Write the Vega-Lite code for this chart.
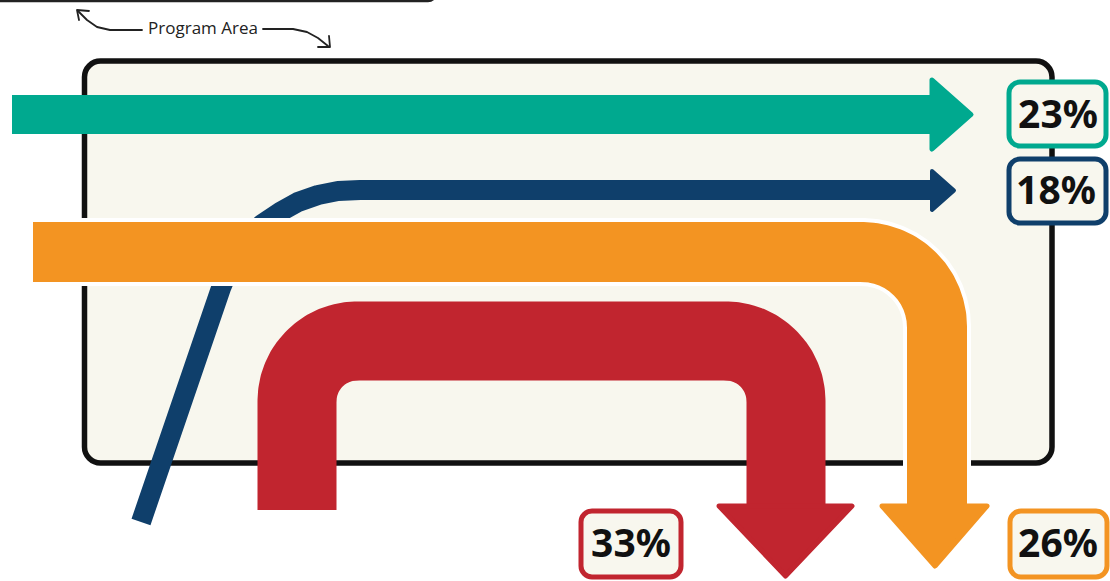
{
  "$schema": "https://vega.github.io/schema/vega-lite/v6.json",
  "width": 1110,
  "height": 581,
  "autosize": {"type": "none"},
  "padding": 0,
  "background": "#ffffff",
  "config": {"view": {"stroke": null}, "axis": {"disable": true}, "legend": {"disable": true}},
  "datasets": {
    "topbox": [{"x": -10, "x2": 436, "y": -30, "y2": 1}],
    "ann": [
      {"id": "L", "i": 0, "x": 142, "y": 30},
      {"id": "L", "i": 1, "x": 110, "y": 30},
      {"id": "L", "i": 2, "x": 97, "y": 27},
      {"id": "L", "i": 3, "x": 87, "y": 20},
      {"id": "L", "i": 4, "x": 78, "y": 11},
      {"id": "LH", "i": 0, "x": 89, "y": 11},
      {"id": "LH", "i": 1, "x": 77, "y": 10},
      {"id": "LH", "i": 2, "x": 79, "y": 20},
      {"id": "R", "i": 0, "x": 263, "y": 29},
      {"id": "R", "i": 1, "x": 293, "y": 29},
      {"id": "R", "i": 2, "x": 307, "y": 32},
      {"id": "R", "i": 3, "x": 318, "y": 38},
      {"id": "R", "i": 4, "x": 328, "y": 46},
      {"id": "RH", "i": 0, "x": 318, "y": 47},
      {"id": "RH", "i": 1, "x": 330, "y": 47},
      {"id": "RH", "i": 2, "x": 329, "y": 36}
    ],
    "annText": [{"x": 203, "y": 29, "t": "Program Area"}],
    "box": [{"x": 84.5, "x2": 1052, "y": 61, "y2": 463}],
    "navy": [
      {"i": 0, "x": 141, "y": 522},
      {"i": 1, "x": 221, "y": 288},
      {"i": 2, "x": 236, "y": 252},
      {"i": 3, "x": 248, "y": 237},
      {"i": 4, "x": 262, "y": 224},
      {"i": 5, "x": 280, "y": 212},
      {"i": 6, "x": 298, "y": 202},
      {"i": 7, "x": 318, "y": 195},
      {"i": 8, "x": 338, "y": 191},
      {"i": 9, "x": 360, "y": 190},
      {"i": 10, "x": 933, "y": 190}
    ],
    "navyHead": [
      {"x": 932, "y": 171, "y2": 210},
      {"x": 954, "y": 190.5, "y2": 190.5}
    ],
    "tealShaft": [{"x": 12, "x2": 934, "y": 95, "y2": 134}],
    "tealHead": [
      {"x": 932, "y": 80, "y2": 149},
      {"x": 971, "y": 114.5, "y2": 114.5}
    ],
    "red": [
      {"i": 0, "x": 297, "y": 510},
      {"i": 1, "x": 297, "y": 401},
      {"i": 2, "x": 297.5, "y": 393.2},
      {"i": 3, "x": 299, "y": 385.5},
      {"i": 4, "x": 301.6, "y": 378},
      {"i": 5, "x": 305, "y": 371},
      {"i": 6, "x": 309.4, "y": 364.5},
      {"i": 7, "x": 314.6, "y": 358.6},
      {"i": 8, "x": 320.5, "y": 353.4},
      {"i": 9, "x": 327, "y": 349},
      {"i": 10, "x": 334, "y": 345.6},
      {"i": 11, "x": 341.5, "y": 343},
      {"i": 12, "x": 349.2, "y": 341.5},
      {"i": 13, "x": 357, "y": 341},
      {"i": 14, "x": 726, "y": 341},
      {"i": 15, "x": 733.8, "y": 341.5},
      {"i": 16, "x": 741.5, "y": 343},
      {"i": 17, "x": 749, "y": 345.6},
      {"i": 18, "x": 756, "y": 349},
      {"i": 19, "x": 762.5, "y": 353.4},
      {"i": 20, "x": 768.4, "y": 358.6},
      {"i": 21, "x": 773.6, "y": 364.5},
      {"i": 22, "x": 778, "y": 371},
      {"i": 23, "x": 781.4, "y": 378},
      {"i": 24, "x": 784, "y": 385.5},
      {"i": 25, "x": 785.5, "y": 393.2},
      {"i": 26, "x": 786, "y": 401},
      {"i": 27, "x": 786, "y": 507}
    ],
    "redHead": [
      {"y": 506, "x": 719, "x2": 852},
      {"y": 576, "x": 785.5, "x2": 785.5}
    ],
    "orange": [
      {"i": 0, "x": 33, "y": 252},
      {"i": 1, "x": 862, "y": 252},
      {"i": 2, "x": 871.8, "y": 252.6},
      {"i": 3, "x": 881.4, "y": 254.6},
      {"i": 4, "x": 890.7, "y": 257.7},
      {"i": 5, "x": 899.5, "y": 262},
      {"i": 6, "x": 907.7, "y": 267.5},
      {"i": 7, "x": 915, "y": 274},
      {"i": 8, "x": 921.5, "y": 281.3},
      {"i": 9, "x": 927, "y": 289.5},
      {"i": 10, "x": 931.3, "y": 298.3},
      {"i": 11, "x": 934.4, "y": 307.6},
      {"i": 12, "x": 936.4, "y": 317.2},
      {"i": 13, "x": 937, "y": 327},
      {"i": 14, "x": 937, "y": 507}
    ],
    "orangeHead": [
      {"y": 506, "x": 882, "x2": 987},
      {"y": 566, "x": 935, "x2": 935}
    ],
    "labels": [
      {"t": "23%", "g": "teal", "x": 1009, "x2": 1106, "y": 82, "y2": 146, "tx": 1058, "ty": 116},
      {"t": "18%", "g": "navy", "x": 1009, "x2": 1106, "y": 159, "y2": 223, "tx": 1056, "ty": 192},
      {"t": "33%", "g": "red", "x": 581, "x2": 681, "y": 511, "y2": 577, "tx": 631, "ty": 545},
      {"t": "26%", "g": "orange", "x": 1010, "x2": 1107, "y": 511, "y2": 577, "tx": 1058, "ty": 545}
    ]
  },
  "layer": [
    {
      "data": {"name": "topbox"},
      "mark": {"type": "rect", "fill": "#ffffff", "stroke": "#222222", "strokeWidth": 2.5, "cornerRadius": 8},
      "encoding": {
        "x": {"field": "x", "type": "quantitative", "scale": {"domain": [0, 1110], "nice": false, "zero": false}},
        "x2": {"field": "x2"},
        "y": {"field": "y", "type": "quantitative", "scale": {"domain": [0, 581], "nice": false, "zero": false, "reverse": true}},
        "y2": {"field": "y2"}
      }
    },
    {
      "data": {"name": "ann"},
      "mark": {"type": "line", "stroke": "#222222", "strokeWidth": 1.8, "strokeCap": "round", "strokeJoin": "round"},
      "encoding": {
        "x": {"field": "x", "type": "quantitative"},
        "y": {"field": "y", "type": "quantitative"},
        "detail": {"field": "id"},
        "order": {"field": "i", "type": "quantitative"}
      }
    },
    {
      "data": {"name": "annText"},
      "mark": {"type": "text", "font": "Open Sans", "fontSize": 17, "color": "#222222", "align": "center", "baseline": "middle"},
      "encoding": {
        "x": {"field": "x", "type": "quantitative"},
        "y": {"field": "y", "type": "quantitative"},
        "text": {"field": "t"}
      }
    },
    {
      "data": {"name": "box"},
      "mark": {"type": "rect", "fill": "#f8f7ee", "stroke": "#111111", "strokeWidth": 5.5, "cornerRadius": 16},
      "encoding": {
        "x": {"field": "x", "type": "quantitative"},
        "x2": {"field": "x2"},
        "y": {"field": "y", "type": "quantitative"},
        "y2": {"field": "y2"}
      }
    },
    {
      "data": {"name": "navy"},
      "mark": {"type": "line", "stroke": "#0f3f6b", "strokeWidth": 20, "strokeCap": "butt", "strokeJoin": "round"},
      "encoding": {
        "x": {"field": "x", "type": "quantitative"},
        "y": {"field": "y", "type": "quantitative"},
        "order": {"field": "i", "type": "quantitative"}
      }
    },
    {
      "data": {"name": "navyHead"},
      "mark": {"type": "area", "orient": "vertical", "fill": "#0f3f6b", "stroke": "#0f3f6b", "strokeWidth": 4, "strokeJoin": "round"},
      "encoding": {
        "x": {"field": "x", "type": "quantitative"},
        "y": {"field": "y", "type": "quantitative"},
        "y2": {"field": "y2"}
      }
    },
    {
      "data": {"name": "tealShaft"},
      "mark": {"type": "rect", "fill": "#00a98f"},
      "encoding": {
        "x": {"field": "x", "type": "quantitative"},
        "x2": {"field": "x2"},
        "y": {"field": "y", "type": "quantitative"},
        "y2": {"field": "y2"}
      }
    },
    {
      "data": {"name": "tealHead"},
      "mark": {"type": "area", "orient": "vertical", "fill": "#00a98f", "stroke": "#00a98f", "strokeWidth": 5, "strokeJoin": "round"},
      "encoding": {
        "x": {"field": "x", "type": "quantitative"},
        "y": {"field": "y", "type": "quantitative"},
        "y2": {"field": "y2"}
      }
    },
    {
      "data": {"name": "red"},
      "mark": {"type": "line", "stroke": "#c1252f", "strokeWidth": 79, "strokeCap": "butt", "strokeJoin": "round"},
      "encoding": {
        "x": {"field": "x", "type": "quantitative"},
        "y": {"field": "y", "type": "quantitative"},
        "order": {"field": "i", "type": "quantitative"}
      }
    },
    {
      "data": {"name": "redHead"},
      "mark": {"type": "area", "orient": "horizontal", "fill": "#c1252f", "stroke": "#c1252f", "strokeWidth": 5, "strokeJoin": "round"},
      "encoding": {
        "y": {"field": "y", "type": "quantitative"},
        "x": {"field": "x", "type": "quantitative"},
        "x2": {"field": "x2"}
      }
    },
    {
      "data": {"name": "orange"},
      "mark": {"type": "line", "stroke": "#ffffff", "strokeWidth": 68, "strokeCap": "butt", "strokeJoin": "round"},
      "encoding": {
        "x": {"field": "x", "type": "quantitative"},
        "y": {"field": "y", "type": "quantitative"},
        "order": {"field": "i", "type": "quantitative"}
      }
    },
    {
      "data": {"name": "orange"},
      "mark": {"type": "line", "stroke": "#f39422", "strokeWidth": 60, "strokeCap": "butt", "strokeJoin": "round"},
      "encoding": {
        "x": {"field": "x", "type": "quantitative"},
        "y": {"field": "y", "type": "quantitative"},
        "order": {"field": "i", "type": "quantitative"}
      }
    },
    {
      "data": {"name": "orangeHead"},
      "mark": {"type": "area", "orient": "horizontal", "fill": "#f39422", "stroke": "#f39422", "strokeWidth": 5, "strokeJoin": "round"},
      "encoding": {
        "y": {"field": "y", "type": "quantitative"},
        "x": {"field": "x", "type": "quantitative"},
        "x2": {"field": "x2"}
      }
    },
    {
      "data": {"name": "labels"},
      "mark": {"type": "rect", "fill": "#f8f7ee", "strokeWidth": 5, "cornerRadius": 11},
      "encoding": {
        "x": {"field": "x", "type": "quantitative"},
        "x2": {"field": "x2"},
        "y": {"field": "y", "type": "quantitative"},
        "y2": {"field": "y2"},
        "stroke": {"field": "g", "type": "nominal", "scale": {"domain": ["teal", "navy", "red", "orange"], "range": ["#00a98f", "#0f3f6b", "#c1252f", "#f39422"]}, "legend": null}
      }
    },
    {
      "data": {"name": "labels"},
      "mark": {"type": "text", "font": "Noto Sans", "fontWeight": "bold", "fontSize": 39, "color": "#111111", "align": "center", "baseline": "middle"},
      "encoding": {
        "x": {"field": "tx", "type": "quantitative"},
        "y": {"field": "ty", "type": "quantitative"},
        "text": {"field": "t"}
      }
    }
  ]
}
